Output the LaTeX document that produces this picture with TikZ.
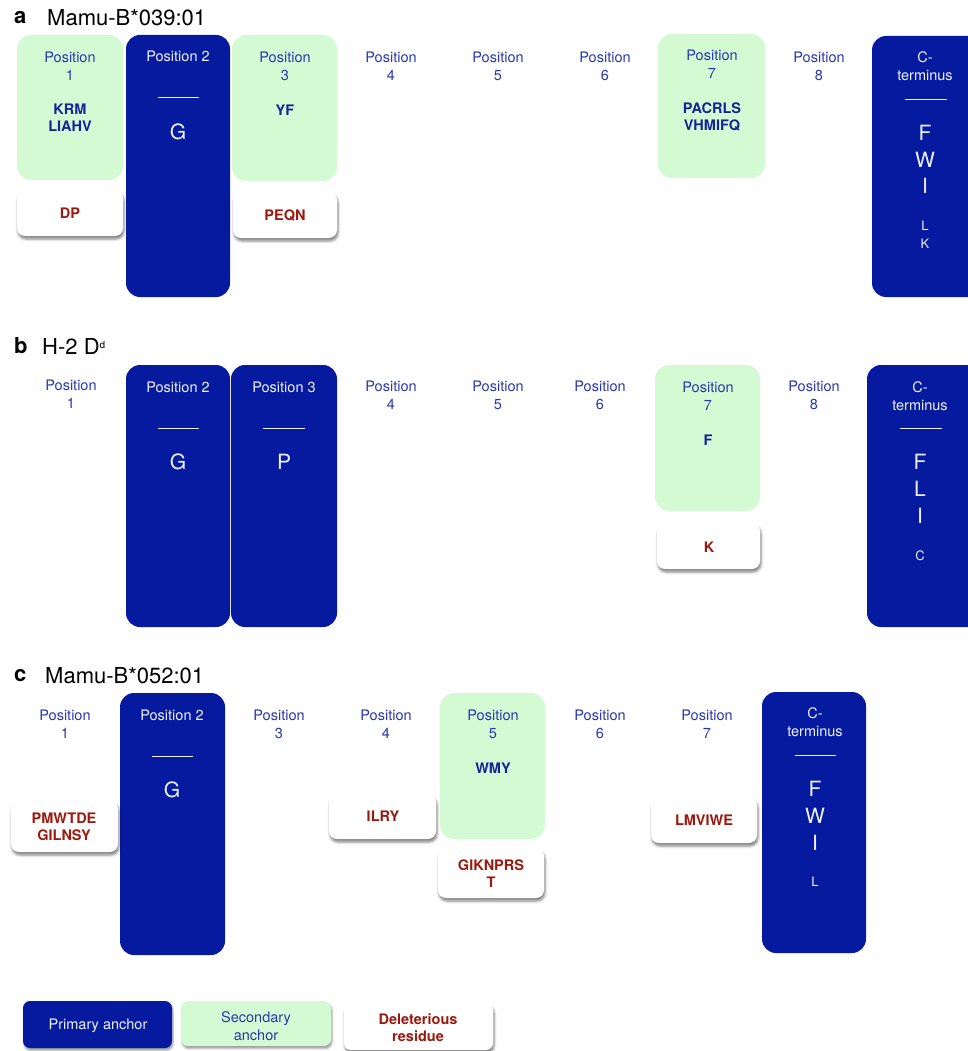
\documentclass[tikz,border=0pt]{standalone}
\usepackage{fontspec}
\setmainfont{TeX Gyre Heros}
\usetikzlibrary{shadows.blur}
\definecolor{pblue}{RGB}{5,26,158}
\definecolor{sgreen}{RGB}{212,250,212}
\definecolor{lblue}{RGB}{40,55,175}
\definecolor{dblue}{RGB}{20,35,150}
\definecolor{dred}{RGB}{155,25,15}
\definecolor{wtext}{RGB}{238,242,255}
\tikzset{
 box/.style={rectangle, inner sep=0pt, outer sep=0pt, draw=none},
 prim/.style={box, fill=pblue, rounded corners=14pt},
 sec/.style={box, fill=sgreen, rounded corners=14pt},
 del/.style={box, fill=white, rounded corners=8pt, blur shadow={shadow xshift=1pt, shadow yshift=-3pt, shadow blur radius=2.5pt, shadow opacity=50}},
 legp/.style={prim, rounded corners=7pt, blur shadow={shadow xshift=1pt, shadow yshift=-2.5pt, shadow blur radius=2pt, shadow opacity=40}},
 legs/.style={sec, rounded corners=7pt, blur shadow={shadow xshift=1pt, shadow yshift=-2.5pt, shadow blur radius=2pt, shadow opacity=40}},
 legd/.style={del, rounded corners=7pt},
 plbl/.style={text=lblue, font=\fontsize{14.5}{18}\selectfont, align=center, inner sep=0pt},
 wplbl/.style={plbl, text=wtext},
 res/.style={text=dblue, font=\bfseries\fontsize{14.5}{17}\selectfont, align=center, inner sep=0pt},
 dres/.style={res, text=dred},
 big/.style={text=wtext, font=\fontsize{21}{21}\selectfont, inner sep=0pt},
 sml/.style={text=wtext, font=\fontsize{13}{13}\selectfont, inner sep=0pt},
 ttl/.style={anchor=west, font=\fontsize{22}{22}\selectfont, inner sep=0pt},
 ttlb/.style={ttl, font=\bfseries\fontsize{22}{22}\selectfont},
 bar/.style={draw=wtext, line width=0.8pt},
}
\newcommand\bx[6]{\node[#1, minimum width={(#5-#3)*1pt}, minimum height={(#6-#4)*1pt}] (#2) at ({(#3+#5)/2},{(#4+#6)/2}) {};}
\begin{document}
\begin{tikzpicture}[x=1pt,y=-1pt]
\useasboundingbox (0,0) rectangle (968,1051);
\clip (0,0) rectangle (968,1051);
% ---------- panel a ----------
\node[ttlb] (ta) at (14,18) {a};
\node[ttl] (tan) at (47,18) {Mamu-B*039:01};
\bx{sec}{a1}{17}{35}{123}{180}
\bx{del}{a1d}{17}{190}{123}{236}
\bx{prim}{a2}{126}{35}{230}{297}
\bx{sec}{a3}{232}{35}{337}{181}
\bx{del}{a3d}{233}{192}{337}{238}
\bx{sec}{a7}{658}{34}{765}{178}
\bx{prim}{aC}{872}{36}{990}{297}
\node[plbl] (a1t) at (70,66) {Position\\1};
\node[res] (a1r) at (70,118) {KRM\\LIAHV};
\node[dres] (a1dr) at (70,213) {DP};
\node[wplbl] (a2t) at (178,56) {Position 2};
\draw[bar] (158,97) -- (199,97);
\node[big] (a2r) at (178,132) {G};
\node[plbl] (a3t) at (285,66) {Position\\3};
\node[res] (a3r) at (285,110) {YF};
\node[dres] (a3dr) at (285,215) {PEQN};
\node[plbl] (a4t) at (391,66) {Position\\4};
\node[plbl] (a5t) at (498,66) {Position\\5};
\node[plbl] (a6t) at (605,66) {Position\\6};
\node[plbl] (a7t) at (712,64) {Position\\7};
\node[res] (a7r) at (712,117) {PACRLS\\VHMIFQ};
\node[plbl] (a8t) at (819,66) {Position\\8};
\node[wplbl] (aCt) at (925,66) {C-\\terminus};
\draw[bar] (905,99) -- (947,99);
\node[big] (aCf) at (925,133) {F};
\node[big] (aCw) at (925,160) {W};
\node[big] (aCi) at (925,186) {I};
\node[sml] (aCl) at (925,226) {L};
\node[sml] (aCk) at (925,244) {K};
% ---------- panel b ----------
\node[ttlb] (tb) at (14,346) {b};
\node[ttl] (tbn) at (42,346) {H-2 D\raisebox{6pt}{\fontsize{10}{10}\selectfont d}};
\bx{prim}{b2}{126}{365}{230}{627}
\bx{prim}{b3}{231}{365}{337}{627}
\bx{sec}{b7}{655}{365}{760}{511}
\bx{del}{b7d}{657}{523}{760}{569}
\bx{prim}{bC}{867}{365}{990}{627}
\node[plbl] (b1t) at (71,394) {Position\\1};
\node[wplbl] (b2t) at (178,387) {Position 2};
\draw[bar] (158,428) -- (199,428);
\node[big] (b2r) at (178,462) {G};
\node[wplbl] (b3t) at (284,387) {Position 3};
\draw[bar] (263,428) -- (305,428);
\node[big] (b3r) at (284,462) {P};
\node[plbl] (b4t) at (391,395) {Position\\4};
\node[plbl] (b5t) at (498,395) {Position\\5};
\node[plbl] (b6t) at (600,395) {Position\\6};
\node[plbl] (b7t) at (708,396) {Position\\7};
\node[res] (b7r) at (708,440) {F};
\node[dres] (b7dr) at (709,547) {K};
\node[plbl] (b8t) at (814,395) {Position\\8};
\node[wplbl] (bCt) at (920,396) {C-\\terminus};
\draw[bar] (900,428) -- (942,428);
\node[big] (bCf) at (920,462) {F};
\node[big] (bCl) at (920,489) {L};
\node[big] (bCi) at (920,516) {I};
\node[sml] (bCc) at (920,556) {C};
% ---------- panel c ----------
\node[ttlb] (tc) at (14,676) {c};
\node[ttl] (tcn) at (45,676) {Mamu-B*052:01};
\bx{prim}{c2}{120}{693}{225}{955}
\bx{sec}{c5}{440}{693}{545}{839}
\bx{prim}{cC}{762}{692}{866}{953}
\bx{del}{c1d}{11}{800}{118}{852}
\bx{del}{c4d}{329}{794}{436}{839}
\bx{del}{c5d}{438}{848}{544}{898}
\bx{del}{c7d}{651}{797}{757}{843}
\node[plbl] (c1t) at (65,724) {Position\\1};
\node[wplbl] (c2t) at (172,715) {Position 2};
\draw[bar] (152,756) -- (193,756);
\node[big] (c2r) at (172,790) {G};
\node[plbl] (c3t) at (279,724) {Position\\3};
\node[plbl] (c4t) at (386,724) {Position\\4};
\node[plbl] (c5t) at (493,724) {Position\\5};
\node[res] (c5r) at (493,768) {WMY};
\node[plbl] (c6t) at (600,724) {Position\\6};
\node[plbl] (c7t) at (707,724) {Position\\7};
\node[wplbl] (cCt) at (815,722) {C-\\terminus};
\draw[bar] (795,755) -- (836,755);
\node[big] (cCf) at (815,789) {F};
\node[big] (cCw) at (815,816) {W};
\node[big] (cCi) at (815,843) {I};
\node[sml] (cCl) at (815,882) {L};
\node[dres] (c1dr) at (64,827) {PMWTDE\\GILNSY};
\node[dres] (c4dr) at (383,816) {ILRY};
\node[dres] (c5dr) at (491,874) {GIKNPRS\\T};
\node[dres] (c7dr) at (704,820) {LMVIWE};
% ---------- legend ----------
\bx{legp}{lp}{23}{1001}{172}{1048}
\bx{legs}{ls}{181}{1001}{331}{1046}
\bx{legd}{ld}{344}{1003}{493}{1050}
\node[wplbl] (lpt) at (98,1026) {Primary anchor};
\node[plbl] (lst) at (256,1026) {Secondary\\anchor};
\node[dres] (ldt) at (418,1028) {Deleterious\\residue};
\end{tikzpicture}
\end{document}
